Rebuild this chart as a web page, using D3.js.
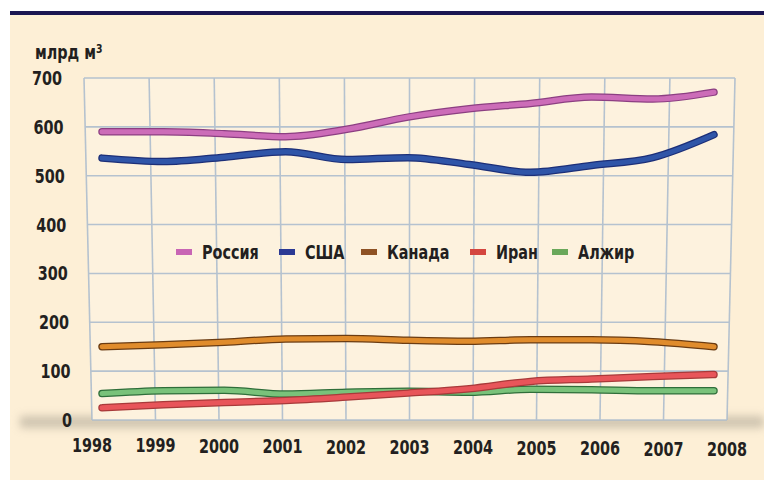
<!DOCTYPE html>
<html lang="ru">
<head>
<meta charset="utf-8">
<title>Добыча газа</title>
<script src="https://d3js.org/d3.v7.min.js"></script>
<style>
  body { margin: 0; background: #fff; }
  text { font-family: "DejaVu Sans Condensed", "Liberation Sans Narrow", sans-serif; font-weight: bold; fill: #231f20; }
</style>
</head>
<body>
<div id="chart"></div>
<script>

// data
var years = [1998, 1999, 2000, 2001, 2002, 2003, 2004, 2005, 2006, 2007, 2008];
var yTicks = [0, 100, 200, 300, 400, 500, 600, 700];
var names = ["Россия", "США", "Канада", "Иран", "Алжир"];
var russia = [590, 590, 586, 580, 595, 620, 637, 648, 661, 657, 671];
var usa    = [536, 529, 538, 549, 533, 537, 523, 507, 521, 537, 584];
var canada = [150, 154, 159, 166, 167, 163, 161, 164, 164, 160, 150];
var iran   = [25, 31, 36, 40, 47, 55, 64, 79, 84, 89, 93];
var algeria = [54, 60, 61, 53, 57, 59, 57, 63, 62, 60, 60];

var lineColors = ["#cc6cb8", "#2f55a8", "#e08c2c", "#e8555a", "#79c27a"];
var edgeColors = ["#8c3f82", "#1c2f78", "#6b3c12", "#a83a3a", "#2f6e3a"];
var swatchColors = ["#c865b4", "#2b3994", "#8e5224", "#d4463f", "#6aa85a"];
var series = [russia, usa, canada, iran, algeria];

var W = 764, H = 482;
var SX = 0.8; // horizontal squeeze to imitate the condensed face
var svg = d3.select("#chart").append("svg")
  .attr("width", W).attr("height", H);

var place = function(x, y) { return "translate(" + x + "," + y + ") scale(" + SX + ",1)"; };

// background panel
svg.append("rect").attr("x", 10).attr("y", 14).attr("width", W - 10).attr("height", 466)
  .attr("fill", "#fdefd6");
svg.append("rect").attr("x", 10).attr("y", 11).attr("width", W - 10).attr("height", 4)
  .attr("fill", "#1b1652");

// shadow under the plot
var defs = svg.append("defs");
defs.append("filter").attr("id", "blur").attr("x", "-10%").attr("y", "-100%").attr("width", "120%").attr("height", "300%")
  .append("feGaussianBlur").attr("stdDeviation", 4);
svg.append("rect").attr("x", 20).attr("y", 416).attr("width", 744).attr("height", 12)
  .attr("fill", "#b0a796").attr("opacity", 0.6).attr("filter", "url(#blur)");

// scales (grid is slightly in perspective: top and bottom edges differ)
var y = d3.scaleLinear().domain([0, 700]).range([420, 78]);
var xTop = d3.scaleLinear().domain([1998, 2008]).range([84, 735]);
var xBot = d3.scaleLinear().domain([1998, 2008]).range([92, 727]);
var xData = d3.scaleLinear().domain([1998, 2008]).range([102, 714]);
var labelY = d3.scaleLinear().domain([1998, 2008]).range([452, 456]);
var tickRight = d3.scaleLinear().domain([700, 0]).range([62, 72]);

var edgeAt = function(v, side) {
  var t = (700 - v) / 700;
  return side === 0 ? xTop(1998) + t * (xBot(1998) - xTop(1998))
                    : xTop(2008) + t * (xBot(2008) - xTop(2008));
};

// plot area fill
svg.append("path")
  .attr("d", "M" + xTop(1998) + "," + y(700) + "L" + xTop(2008) + "," + y(700) +
             "L" + xBot(2008) + "," + y(0) + "L" + xBot(1998) + "," + y(0) + "Z")
  .attr("fill", "#fdf2de");

// grid
var grid = svg.append("g").attr("stroke", "#a9bacd").attr("stroke-width", 1.6).attr("opacity", 0.85);
grid.selectAll(".v").data(years).enter().append("line")
  .attr("x1", function(d) { return xTop(d); }).attr("y1", y(700))
  .attr("x2", function(d) { return xBot(d); }).attr("y2", y(0));
grid.selectAll(".h").data(yTicks).enter().append("line")
  .attr("x1", function(d) { return edgeAt(d, 0); }).attr("y1", function(d) { return y(d); })
  .attr("x2", function(d) { return edgeAt(d, 1); }).attr("y2", function(d) { return y(d); });

// y tick labels
svg.selectAll(".ytick").data(yTicks).enter().append("text")
  .attr("transform", function(d) { return place(tickRight(d), y(d) + 7); })
  .attr("text-anchor", "end")
  .style("font-size", "20px")
  .text(function(d) { return d; });

// unit label
var unit = svg.append("text").attr("transform", place(35, 59)).style("font-size", "20px");
unit.append("tspan").text("млрд м");
unit.append("tspan").attr("dy", -6).style("font-size", "13px").text("3");

// x tick labels
svg.selectAll(".xtick").data(years).enter().append("text")
  .attr("transform", function(d) { return place(xBot(d), labelY(d)); })
  .attr("text-anchor", "middle")
  .style("font-size", "20px")
  .text(function(d) { return d; });

// lines
var line = d3.line()
  .x(function(d, i) { return xData(years[i]); })
  .y(function(d) { return y(d); })
  .curve(d3.curveMonotoneX);

var order = [2, 4, 3, 1, 0];
order.forEach(function(k) {
  svg.append("path").datum(series[k])
    .attr("d", line).attr("fill", "none")
    .attr("stroke", edgeColors[k]).attr("stroke-width", 7.5)
    .attr("stroke-linecap", "round").attr("stroke-linejoin", "round");
  svg.append("path").datum(series[k])
    .attr("d", line).attr("fill", "none")
    .attr("stroke", lineColors[k]).attr("stroke-width", 5)
    .attr("stroke-linecap", "round").attr("stroke-linejoin", "round");
});

// legend
var legendX = [176, 279, 361, 470, 552];
var legend = svg.selectAll(".legend").data(names).enter().append("g")
  .attr("transform", function(d, i) { return "translate(" + legendX[i] + ",252)"; });
legend.append("rect").attr("x", 0).attr("y", -3).attr("width", 16).attr("height", 6)
  .attr("fill", function(d, i) { return swatchColors[i]; });
legend.append("text").attr("transform", place(26, 7)).style("font-size", "20px")
  .text(function(d) { return d; });

</script>
</body>
</html>
